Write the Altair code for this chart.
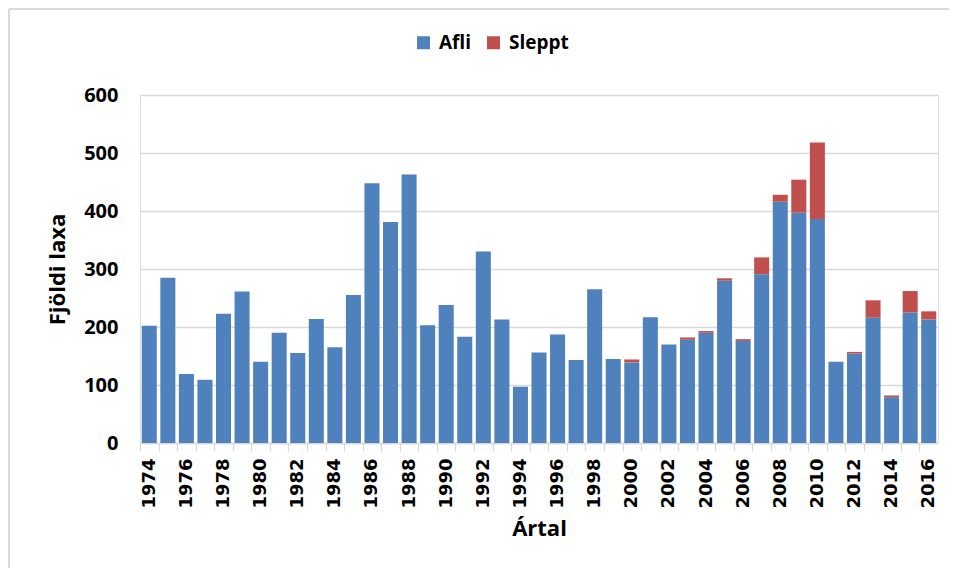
import altair as alt
import pandas as pd

years = list(range(1974, 2017))
afli = [202, 285, 119, 109, 223, 261, 140, 190, 155, 214, 165, 255, 448, 381, 463,
        203, 238, 183, 330, 213, 97, 156, 187, 143, 265, 145, 139, 217, 170, 178,
        190, 280, 176, 291, 416, 397, 386, 140, 154, 216, 79, 225, 213]
sleppt = [0] * 26 + [5, 0, 0, 4, 3, 4, 3, 29, 12, 57, 132, 0, 3, 30, 3, 37, 14]
series = ["Afli", "Sleppt"]
colors = ["#4F81BD", "#C0504D"]
y_ticks = [0, 100, 200, 300, 400, 500, 600]

rows = []
for yr, a, s in zip(years, afli, sleppt):
    rows.append({"Ártal": yr, "Flokkur": "Afli", "Fjöldi": a, "rod": 0})
    rows.append({"Ártal": yr, "Flokkur": "Sleppt", "Fjöldi": s, "rod": 1})
df = pd.DataFrame(rows)

W, H = 798, 348
step = W / len(years)
FONT = "Open Sans"

bars = alt.Chart(df).mark_bar().encode(
    x=alt.X("Ártal:O",
            scale=alt.Scale(paddingInner=0.19, paddingOuter=0.095),
            axis=alt.Axis(title="Ártal", labelAngle=-90,
                          labelExpr="datum.value % 2 == 0 ? datum.label : ''",
                          labelFont="DejaVu Sans", labelFontWeight="bold",
                          labelFontSize=18, labelColor="#000000",
                          labelPadding=7, labelOverlap=False,
                          tickOffset=-step / 2, labelOffset=step / 2,
                          tickSize=8, tickColor="#d9d9d9", tickWidth=1.3,
                          domainColor="#d9d9d9", domainWidth=1.3,
                          titleFont=FONT, titleFontSize=22, titleFontWeight="bold",
                          titleColor="#000000", titlePadding=10)),
    y=alt.Y("Fjöldi:Q", stack="zero",
            scale=alt.Scale(domain=[0, 600], nice=False),
            axis=alt.Axis(title="Fjöldi laxa", values=y_ticks, grid=True,
                          gridColor="#d9d9d9", gridWidth=1.3,
                          domain=False, ticks=False,
                          labelFont=FONT, labelFontWeight="bold",
                          labelFontSize=20, labelColor="#000000",
                          labelPadding=22,
                          titleFont=FONT, titleFontSize=22, titleFontWeight="bold",
                          titleColor="#000000", titlePadding=14)),
    color=alt.Color("Flokkur:N",
                    scale=alt.Scale(domain=series, range=colors),
                    legend=alt.Legend(title=None, orient="none", direction="horizontal",
                                      legendX=274, legendY=-62,
                                      symbolType="square", symbolSize=169,
                                      symbolStrokeWidth=0,
                                      labelFont=FONT, labelFontSize=19,
                                      labelFontWeight="bold", labelColor="#000000",
                                      labelOffset=6, columnPadding=12)),
    order=alt.Order("rod:Q"),
)

border_left = alt.Chart(df).mark_rule(color="#d9d9d9", strokeWidth=2).encode(
    x=alt.value(-131), y=alt.value(-86), y2=alt.value(H + 130)
)
border_top = alt.Chart(df).mark_rule(color="#d9d9d9", strokeWidth=2).encode(
    x=alt.value(-131), x2=alt.value(W + 20), y=alt.value(-86)
)

chart = alt.layer(border_left, border_top, bars).properties(
    width=W, height=H,
    autosize=alt.AutoSizeParams(type="none"),
    padding={"left": 132, "top": 87, "right": 11, "bottom": 125},
).configure_view(stroke=None).configure(background="white")

chart.save("out.html", embed_options={"renderer": "svg", "actions": False})
